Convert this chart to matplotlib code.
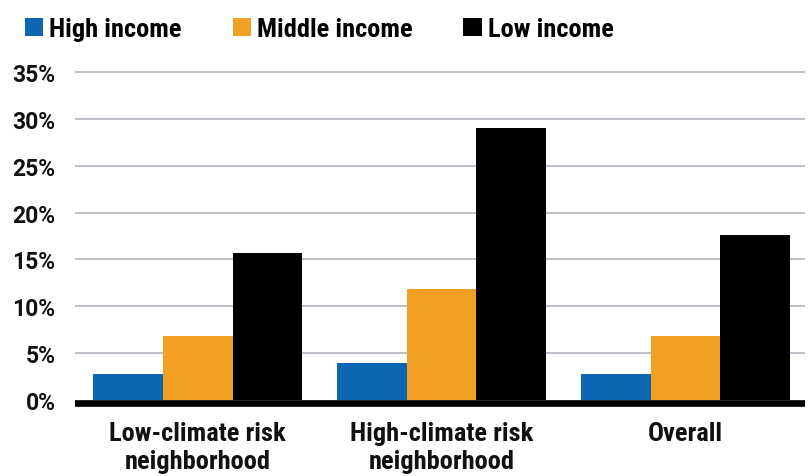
import numpy as np
import matplotlib
matplotlib.use("Agg")
import matplotlib.pyplot as plt
from matplotlib.patches import Patch

plt.rcParams['font.family'] = ['Roboto Condensed', 'DejaVu Sans']
plt.rcParams['font.weight'] = 'bold'

# share of households (%) by neighborhood climate risk
categories = ["Low-climate risk\nneighborhood", "High-climate risk\nneighborhood", "Overall"]
series = ["High income", "Middle income", "Low income"]
high_income = [2.8, 3.9, 2.8]
middle_income = [6.8, 11.8, 6.8]
low_income = [15.7, 29.0, 17.6]
yticks = [0, 5, 10, 15, 20, 25, 30, 35]
ytick_labels = ["0%", "5%", "10%", "15%", "20%", "25%", "30%", "35%"]

colors = ["#0C66B1", "#F2A023", "#000000"]

fig = plt.figure(figsize=(8.09, 4.77), dpi=100)
ax = fig.add_axes([0.0927, 0.1396, 0.9024, 0.7269])

x = np.arange(len(categories))
width = 0.286
for i, vals in enumerate([high_income, middle_income, low_income]):
    ax.bar(x + (i - 1) * width, vals, width=width, color=colors[i], zorder=2)

ax.set_xlim(-0.503, 2.49)
ax.set_ylim(-1, 36)

# gridlines at the tick values
for t in yticks[1:]:
    ax.axhline(t, color="#A9ABB9", lw=1.1, zorder=1)
# heavy baseline
ax.axhline(-0.32, color="#000000", lw=4.8, zorder=3)

ax.set_yticks(yticks)
ax.set_yticklabels(ytick_labels, family=["Roboto", "DejaVu Sans"], fontweight="bold")
ax.set_xticks(x)
ax.set_xticklabels(categories, linespacing=1.22)
ax.tick_params(axis="y", length=0, pad=14, labelsize=16.5, labelcolor="#111111")
ax.tick_params(axis="x", length=0, pad=8, labelsize=19, labelcolor="#111111")

for s in ax.spines.values():
    s.set_visible(False)

handles = [Patch(facecolor=c, edgecolor="none") for c in colors]
fig.legend(handles, series, loc="upper left", bbox_to_anchor=(0.008, 1.0), ncol=3,
           frameon=False, fontsize=19, handlelength=0.7, handleheight=0.7,
           handletextpad=0.23, columnspacing=1.92, borderaxespad=0.3)

fig.savefig("out.png", dpi=100)
